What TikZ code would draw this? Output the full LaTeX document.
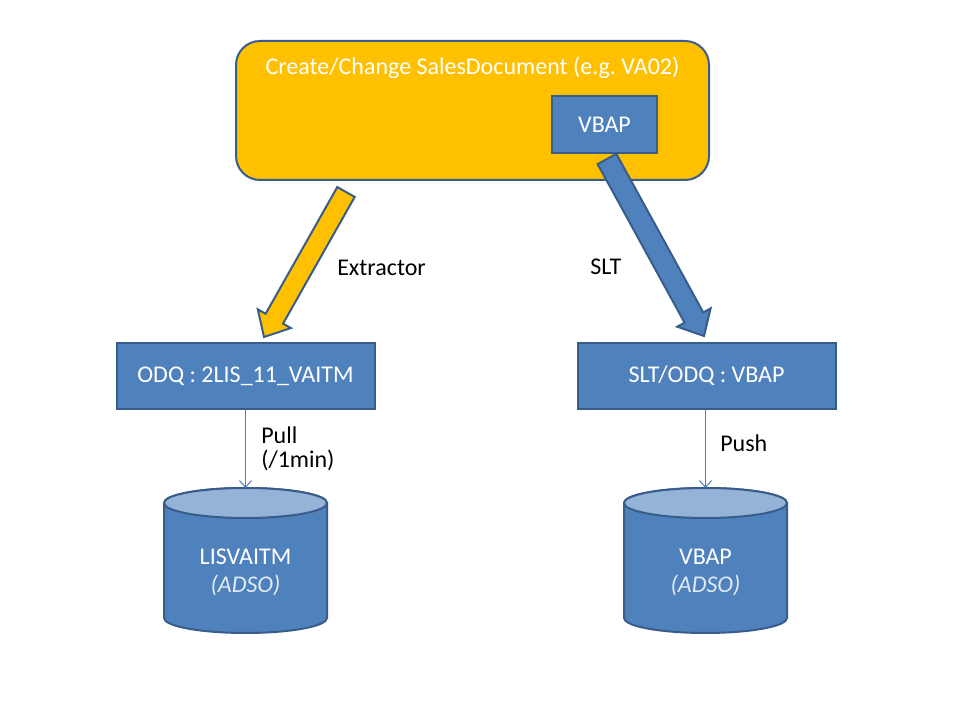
\documentclass[tikz,border=0pt]{standalone}
\usepackage{fontspec}
\setmainfont{Carlito}
\usetikzlibrary{calc,arrows.meta}
\definecolor{sapblue}{HTML}{4F81BD}
\definecolor{sapborder}{HTML}{385D8A}
\definecolor{saporange}{HTML}{FFC000}
\definecolor{saptop}{HTML}{95B3D7}
\definecolor{thinline}{HTML}{4A7EBB}
\definecolor{adsotext}{HTML}{E2EAF4}
\begin{document}
\begin{tikzpicture}[x=0.75pt,y=0.75pt,
  font=\fontsize{18}{21}\selectfont,
  bluebox/.style={draw=sapborder, fill=sapblue, line width=1.5pt, text=white, inner sep=0pt},
  mainbox/.style={draw=sapborder, fill=saporange, line width=1.5pt, rounded corners=18pt, inner sep=0pt},
  blockarrow/.style={draw=sapborder, line width=1.5pt, line join=miter},
  thinarrow/.style={draw=thinline, line width=0.75pt, -{Straight Barb[length=5pt,width=9pt]}},
  cylbody/.style={draw=sapborder, fill=sapblue, line width=1.5pt},
  cyltop/.style={draw=sapborder, fill=saptop, line width=1.5pt},
  lbl/.style={text=black, anchor=west, inner sep=0pt},
  cyltext/.style={text=white, align=center, inner sep=0pt}]
\useasboundingbox (0,0) rectangle (960,720);
\fill[white] (0,0) rectangle (960,720);

% main box
\node[mainbox, minimum width=354.75pt, minimum height=104.25pt] (main) at (472.5,609.5) {};
\node[text=white, inner sep=0pt] (title) at (472.5,652) {Create/Change SalesDocument (e.g.\ VA02)};
\node[bluebox, minimum width=78.75pt, minimum height=42.75pt] (vbap) at (604.5,595.5) {VBAP};

% ODQ boxes
\node[bluebox, minimum width=193.5pt, minimum height=49.5pt] (odqL) at (245.5,344) {ODQ : 2LIS\_11\_VAITM};
\node[bluebox, minimum width=193.5pt, minimum height=49.5pt] (odqR) at (706.5,344) {SLT/ODQ : VBAP};

% orange block arrow
\coordinate (os) at (346,528);
\coordinate (oe) at (264,383);
\coordinate (ob) at ($(oe)!15.75pt!(os)$);
\draw[blockarrow, fill=saporange]
  ($(os)!7.5pt!90:(oe)$) -- ($(ob)!7.5pt!90:(oe)$) -- ($(ob)!14.25pt!90:(oe)$) -- (oe)
  -- ($(ob)!14.25pt!-90:(oe)$) -- ($(ob)!7.5pt!-90:(oe)$) -- ($(os)!7.5pt!-90:(oe)$) -- cycle;

% blue block arrow
\coordinate (bs) at (607,561);
\coordinate (be) at (704,384);
\coordinate (bb) at ($(be)!15.75pt!(bs)$);
\draw[blockarrow, fill=sapblue]
  ($(bs)!8pt!90:(be)$) -- ($(bb)!8pt!90:(be)$) -- ($(bb)!14.25pt!90:(be)$) -- (be)
  -- ($(bb)!14.25pt!-90:(be)$) -- ($(bb)!8pt!-90:(be)$) -- ($(bs)!8pt!-90:(be)$) -- cycle;

\node[lbl] (extr) at (337,452) {Extractor};
\node[lbl] (slt) at (590,453) {SLT};

% cylinders
\draw[cylbody] (164,217) -- (164,102) arc[start angle=180, end angle=360, x radius=61.125pt, y radius=11.25pt]
  -- (327,217) arc[start angle=0, end angle=180, x radius=61.125pt, y radius=11.25pt] -- cycle;
\draw[cyltop] (245.5,217) ellipse[x radius=61.125pt, y radius=11.25pt];
\coordinate (cylLtop) at (245.5,232);
\node[cyltext] (cylL) at (245.5,163) {LISVAITM};
\node[cyltext, text=adsotext] (cylLsub) at (245.5,135) {\itshape (ADSO)};

\draw[cylbody] (624,217) -- (624,102) arc[start angle=180, end angle=360, x radius=61.125pt, y radius=11.25pt]
  -- (787,217) arc[start angle=0, end angle=180, x radius=61.125pt, y radius=11.25pt] -- cycle;
\draw[cyltop] (705.5,217) ellipse[x radius=61.125pt, y radius=11.25pt];
\coordinate (cylRtop) at (705.5,232);
\node[cyltext] (cylR) at (705.5,163) {VBAP};
\node[cyltext, text=adsotext] (cylRsub) at (705.5,135) {\itshape (ADSO)};

% thin arrows
\draw[thinarrow] (odqL.south) -- (cylLtop);
\draw[thinarrow] (odqR.south -| cylRtop) -- (cylRtop);

\node[lbl] (pull) at (261,285) {Pull};
\node[lbl] (pullb) at (261,260) {(/1min)};
\node[lbl] (push) at (720,277) {Push};
\end{tikzpicture}
\end{document}
